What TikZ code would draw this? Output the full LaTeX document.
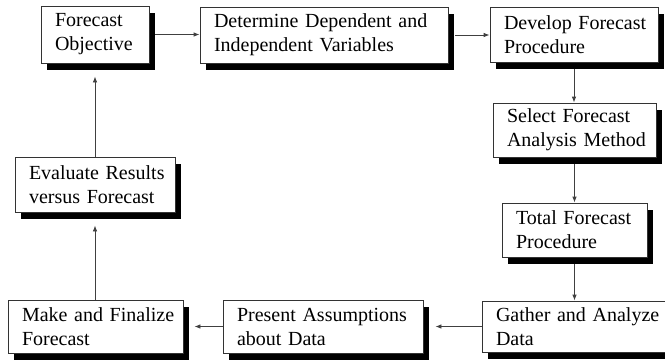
\documentclass[tikz,border=0pt]{standalone}
\usepackage{fontspec}
\setmainfont{Liberation Serif}
\usetikzlibrary{shadows,arrows.meta}
\tikzset{
  box/.style={draw=black!80, line width=0.8pt, fill=white, align=left,
    inner xsep=14pt, inner ysep=0pt, font=\fontsize{20}{24}\selectfont,
    drop shadow={shadow xshift=6pt, shadow yshift=-7pt, fill=black, opacity=1}},
  arr/.style={draw=black!75, line width=0.8pt, -{Latex[length=6pt,width=4.5pt]}}
}
\newcommand{\bx}[7]{% name, cx, cy, W, H, line1, line2
  \node[box, minimum width=#4pt, minimum height=#5pt, text width=#4pt-28pt] (#1) at (#2,#3) {\mbox{#6}\\\mbox{#7}};}
\begin{document}
\begin{tikzpicture}[x=1pt,y=-1pt]
\useasboundingbox (0,0) rectangle (665,360);
\clip (0,0) rectangle (665,360);
\fill[white] (0,0) rectangle (665,360);
\bx{b1}{95}{34.5}{108}{57}{Forecast}{Objective}
\bx{b2}{324}{35}{248}{56}{Determine Dependent and}{Independent Variables}
\bx{b3}{574}{34.5}{168}{55}{Develop Forecast}{Procedure}
\bx{b4}{574.5}{130}{163}{54}{Select Forecast}{Analysis Method}
\bx{b5}{574.5}{230}{145}{54}{Total Forecast}{Procedure}
\bx{b6}{577}{326.5}{190}{51}{Gather and Analyze}{Data}
\bx{b7}{323}{326.5}{200}{53}{Present Assumptions}{about Data}
\bx{b8}{95.5}{326.5}{175}{53}{Make and Finalize}{Forecast}
\bx{b9}{95}{184.5}{160}{55}{Evaluate Results}{versus Forecast}
\draw[arr] ([xshift=6pt]b1.east) -- (b2.west |- b1.east);
\draw[arr] ([xshift=7pt]b2.east) -- (b3.west |- b2.east);
\draw[arr] ([yshift=-7pt]b3.south) -- (b4.north -| b3.south);
\draw[arr] ([yshift=-7pt]b4.south) -- (b5.north);
\draw[arr] ([yshift=-7pt]b5.south) -- (b6.north -| b5.south);
\draw[arr] (b6.west) -- ([xshift=12pt]b7.east |- b6.west);
\draw[arr] (b7.west) -- ([xshift=11pt]b8.east |- b7.west);
\draw[arr] (b8.north -| b9.south) -- ([yshift=-13pt]b9.south);
\draw[arr] (b9.north) -- ([yshift=-13pt]b1.south);
\end{tikzpicture}
\end{document}
